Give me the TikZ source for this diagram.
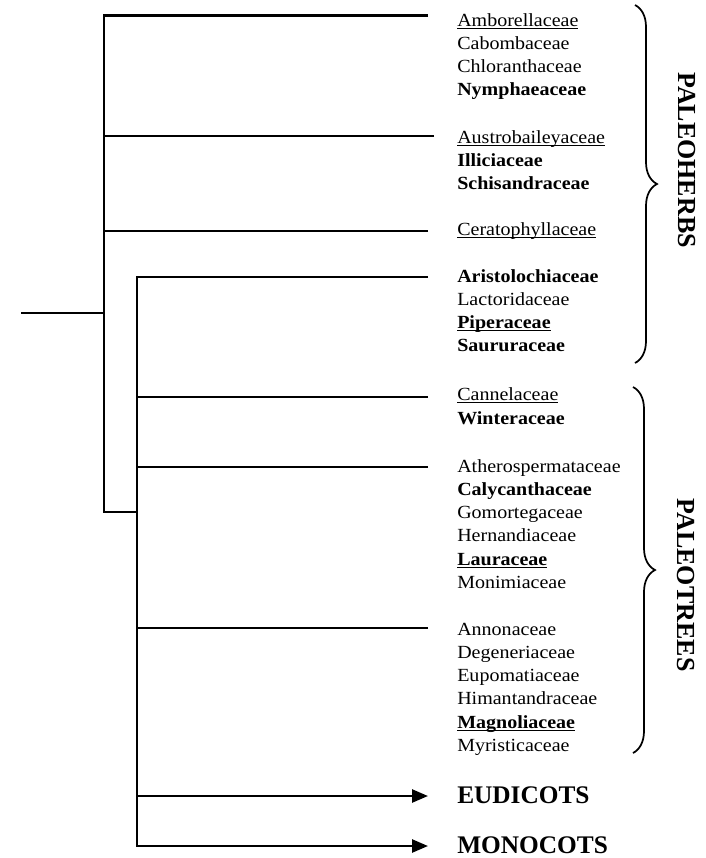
\documentclass[tikz,border=0pt]{standalone}
\usepackage{fontspec}
\setmainfont{Liberation Serif}
\newfontfamily\famfont[FakeStretch=1.08]{Liberation Serif}
\usetikzlibrary{arrows.meta,decorations.pathreplacing}
\newcommand\undl[1]{\setbox0\hbox{#1}\rlap{\rule[-2pt]{\wd0}{0.75pt}}\box0}

\tikzset{every picture/.style={line width=1.9pt}}
\tikzset{
  fam/.style={anchor=base west,inner sep=0pt,font=\famfont\fontsize{13.9}{16}\selectfont},
  clade/.style={anchor=base west,inner sep=0pt,font=\bfseries\fontsize{19}{22}\selectfont},
  group/.style={inner sep=0pt,rotate=-90,font=\bfseries\fontsize{19.5}{22}\selectfont},
  lineage/.style={-{Triangle[length=12pt,width=9.75pt]}},
  bracket/.style={line width=1.3pt,decorate,decoration={brace,amplitude=16.5pt}}
}

\begin{document}
\begin{tikzpicture}[x=0.75pt,y=0.75pt,yscale=-1,xscale=1]
\useasboundingbox (0,0) rectangle (706,858);

%Branch points
\coordinate (root) at (21,313);
\coordinate (outer) at (104,313);
\coordinate (inner) at (137,512);
\coordinate (tA) at (428,15.7);
\coordinate (tB) at (434,136);
\coordinate (tC) at (428,231);
\coordinate (tD) at (428,277);
\coordinate (tE) at (428,397);
\coordinate (tF) at (428,467);
\coordinate (tG) at (428,628);
\coordinate (tH) at (428,796);
\coordinate (tI) at (428,846);

%Straight Lines
\draw (root) -- (outer);
\draw (tA) -| (outer);
\draw (tB) -| (outer);
\draw (tC) -| (outer);
\draw (outer) |- (inner);
\draw (tD) -| (inner);
\draw (tE) -| (inner);
\draw (tF) -| (inner);
\draw (tG) -| (inner);
\draw [lineage] (inner) |- (tH);
\draw [lineage] (inner) |- (tI);

% Text Node
\node (amb) at (456,26.3) [fam] {\undl{Amborellaceae}};
\node (cab) at (456,49.5) [fam] {Cabombaceae};
\node (chl) at (456,72.7) [fam] {Chloranthaceae};
\node (nym) at (456,95.5) [fam] {\bfseries Nymphaeaceae};
% Text Node
\node (aus) at (456,143) [fam] {\undl{Austrobaileyaceae}};
\node (ill) at (456,166) [fam] {\bfseries Illiciaceae};
\node (sch) at (456,189) [fam] {\bfseries Schisandraceae};
% Text Node
\node (cer) at (456,235) [fam] {\undl{Ceratophyllaceae}};
% Text Node
\node (ari) at (456,282.5) [fam] {\bfseries Aristolochiaceae};
\node (lac) at (456,305.5) [fam] {Lactoridaceae};
\node (pip) at (456,328.5) [fam] {\undl{\bfseries Piperaceae}};
\node (sau) at (456,351.5) [fam] {\bfseries Saururaceae};
% Text Node
\node (can) at (456,400.5) [fam] {\undl{Cannelaceae}};
\node (win) at (456,424) [fam] {\bfseries Winteraceae};
% Text Node
\node (ath) at (456,472) [fam] {Atherospermataceae};
\node (cal) at (456,495.2) [fam] {\bfseries Calycanthaceae};
\node (gom) at (456,518.5) [fam] {Gomortegaceae};
\node (her) at (456,541.7) [fam] {Hernandiaceae};
\node (lau) at (456,565) [fam] {\undl{\bfseries Lauraceae}};
\node (mon) at (456,588.2) [fam] {Monimiaceae};
% Text Node
\node (ann) at (456,635) [fam] {Annonaceae};
\node (deg) at (456,658.3) [fam] {Degeneriaceae};
\node (eup) at (456,681.6) [fam] {Eupomatiaceae};
\node (him) at (456,704.9) [fam] {Himantandraceae};
\node (mag) at (456,728.2) [fam] {\undl{\bfseries Magnoliaceae}};
\node (myr) at (456,751.5) [fam] {Myristicaceae};
% Text Node
\node (eud) at (456,803) [clade] {EUDICOTS};
\node (mcot) at (456,853) [clade] {MONOCOTS};

%Braces
\coordinate (hTop) at (635,5);
\coordinate (hBot) at (635,363);
\coordinate (tTop) at (633,387);
\coordinate (tBot) at (633,753);
\draw [bracket] (hTop) -- (hBot);
\draw [bracket] (tTop) -- (tBot);

% Text Node
\node (pherbs) at (687,160) [group] {PALEOHERBS};
\node (ptrees) at (686,585) [group] {PALEOTREES};

\end{tikzpicture}
\end{document}
